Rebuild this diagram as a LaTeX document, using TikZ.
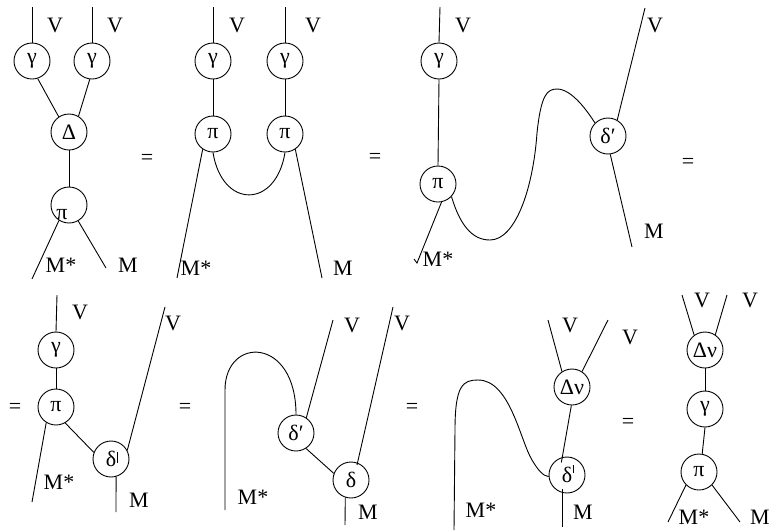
\documentclass[tikz,border=0pt]{standalone}
\usepackage{fontspec}
\setmainfont{Liberation Serif}
\usepackage{tikz}

\begin{document}
\begin{tikzpicture}[x=1pt, y=-1pt, line width=0.9pt,
  map/.style={circle, draw=black, inner sep=0pt, minimum size=36pt,
              font=\fontsize{22}{26}\selectfont},
  lbl/.style={inner sep=0pt, font=\fontsize{22}{26}\selectfont}
]
  \useasboundingbox (0,0) rectangle (774,531);

  % first picture: two gammas into Delta, then pi
  \node[map] (ga) at (32,61) {γ};
  \node[map] (gb) at (92,61) {γ};
  \node[map] (Da) at (69,132) {Δ};
  \node[map] (pa) at (69,205) {};
  \node[lbl] (pia) at (62,215) {π};
  \coordinate (va) at (32,7);
  \coordinate (vb) at (92,7);
  \coordinate (msa) at (32,279);
  \coordinate (ma) at (106,268);
  \draw (va) -- (ga.north);
  \draw (vb) -- (gb.north);
  \draw (ga.-72) -- (Da.124);
  \draw (gb.-97) -- (Da.59);
  \draw (Da.south) -- (pa.north);
  \draw (pa.-123) -- (msa);
  \draw (pa.-60) -- (ma);
  \node[lbl] (lva) at (55,25) {V};
  \node[lbl] (lvb) at (115,25) {V};
  \node[lbl] (lmsa) at (61,265) {M*};
  \node[lbl] (lma) at (128,265) {M};
  \node[lbl] (eqa) at (147,159) {=};

  % second picture: gamma, pi twice, joined by a cup
  \node[map] (gc) at (213,61) {γ};
  \node[map] (gd) at (285,61) {γ};
  \node[map] (pb) at (213,134) {π};
  \node[map] (pc) at (285,134) {π};
  \coordinate (vc) at (213,7);
  \coordinate (vd) at (285,7);
  \coordinate (msb) at (177,278);
  \coordinate (mb) at (322,278);
  \draw (vc) -- (gc.north);
  \draw (vd) -- (gd.north);
  \draw (gc.south) -- (pb.north);
  \draw (gd.south) -- (pc.north);
  \draw (pb.-124) -- (msb);
  \draw (pc.-56) -- (mb);
  \draw (pb.south) .. controls (222,209) and (276,209) .. (pc.south);
  \node[lbl] (lvc) at (237,25) {V};
  \node[lbl] (lvd) at (313,25) {V};
  \node[lbl] (lmsb) at (196,268) {M*};
  \node[lbl] (lmb) at (343,268) {M};
  \node[lbl] (eqb) at (375,158) {=};

  % third picture: S-shaped wire from pi to delta'
  \node[map] (ge) at (439,61) {γ};
  \node[map] (pd) at (438,184) {π};
  \node[map] (dq) at (608,136) {δ′};
  \coordinate (ve) at (440,7);
  \coordinate (vf) at (645,8);
  \coordinate (msc) at (417,263);
  \coordinate (mc) at (632,247);
  \draw (ve) -- (ge.north);
  \draw (ge.south) -- (pd.north);
  \draw (pd.-79) -- (msc) -- ++(-3,-4);
  \draw (pd.-43) .. controls (460,225) and (472,240) .. (490,240)
    .. controls (515,240) and (533,190) .. (537,133)
    .. controls (541,95) and (547,89) .. (557,89)
    .. controls (572,89) and (588,112) .. (dq.135);
  \draw (dq.60) -- (vf);
  \draw (dq.-83) -- (mc);
  \node[lbl] (lve) at (463,25) {V};
  \node[lbl] (lvf) at (655,25) {V};
  \node[lbl] (lmsc) at (438,259) {M*};
  \node[lbl] (lmc) at (654,231) {M};
  \node[lbl] (eqc) at (688,163) {=};

  % fourth picture: pi into delta
  \node[lbl] (eqd) at (15,408) {=};
  \node[map] (gf) at (56,350) {γ};
  \node[map] (pe) at (56,407) {π};
  \node[map] (da) at (111,459) {δ};
  \coordinate (vg) at (57,295);
  \coordinate (vh) at (165,307);
  \coordinate (msd) at (32,502);
  \coordinate (md) at (116,512);
  \draw (vg) -- (gf.north);
  \draw (gf.south) -- (pe.north);
  \draw (pe.-60) -- (da.159);
  \draw (da.28) -- (vh);
  \draw (da.center) ++(6,-7) -- ++(0,11);
  \draw (da.-74) -- (md);
  \draw (pe.-122) -- (msd);
  \node[lbl] (lvg) at (80,312) {V};
  \node[lbl] (lvh) at (173,323) {V};
  \node[lbl] (lmsd) at (59,482) {M*};
  \node[lbl] (lmd) at (139,500) {M};
  \node[lbl] (eqe) at (185,408) {=};

  % fifth picture: cap into delta', then delta
  \node[map] (db) at (296,433) {δ′};
  \node[map] (dc) at (351,480) {δ};
  \coordinate (mse) at (225,510);
  \coordinate (vi) at (333,320);
  \coordinate (vj) at (393,307);
  \coordinate (me) at (345,525);
  \draw (mse) -- (225,390) .. controls (225,336) and (296,336) .. (db.north);
  \draw (db.56) -- (vi);
  \draw (db.-57) -- (dc.159);
  \draw (dc.center) ++(6,-15) -- (vj);
  \draw (dc.-108) -- (me);
  \node[lbl] (lvi) at (352,325) {V};
  \node[lbl] (lvj) at (402,323) {V};
  \node[lbl] (lmse) at (253,497) {M*};
  \node[lbl] (lme) at (368,512) {M};
  \node[lbl] (eqf) at (412,408) {=};

  % sixth picture: cap into delta, Delta nu above
  \node[map] (na) at (572,387) {Δν};
  \node[map] (dd) at (567,475) {δ};
  \coordinate (vk) at (548,320);
  \coordinate (vl) at (608,320);
  \coordinate (msf) at (454,530);
  \coordinate (mf) at (562,527);
  \draw (na.123) -- (vk);
  \draw (na.57) -- (vl);
  \draw (na.-92) -- ++(-10,57);
  \draw (dd.center) ++(6,-10) -- ++(0,8);
  \draw (dd.center) ++(-5,14) -- (mf);
  \draw (msf) -- (455,430) .. controls (455,385) and (463,380) .. (478,380)
    .. controls (510,380) and (520,440) .. (532,460)
    .. controls (538,470) and (543,476) .. (dd.185);
  \node[lbl] (lvk) at (570,325) {V};
  \node[lbl] (lvl) at (630,337) {V};
  \node[lbl] (lmsf) at (481,510) {M*};
  \node[lbl] (lmf) at (583,512) {M};
  \node[lbl] (eqg) at (628,423) {=};

  % seventh picture: Delta nu, gamma, pi in a column
  \node[map] (nb) at (705,350) {Δν};
  \node[map] (gg) at (705,409) {γ};
  \node[map] (pf) at (699,472) {π};
  \coordinate (vm) at (682,295);
  \coordinate (vn) at (727,295);
  \coordinate (msg) at (668,522);
  \coordinate (mg) at (740,522);
  \draw (nb.126) -- (vm);
  \draw (nb.56) -- (vn);
  \draw (nb.south) -- (gg.north);
  \draw (gg.south) -- (pf.80);
  \draw (pf.-135) -- (msg);
  \draw (pf.-45) -- (mg);
  \node[lbl] (lvm) at (702,300) {V};
  \node[lbl] (lvn) at (750,300) {V};
  \node[lbl] (lmsg) at (694,517) {M*};
  \node[lbl] (lmg) at (760,517) {M};
\end{tikzpicture}
\end{document}
